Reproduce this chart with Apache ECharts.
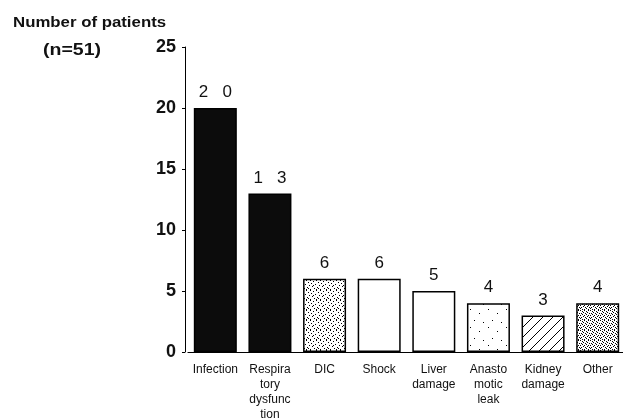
<!DOCTYPE html>
<html><head><meta charset="utf-8">
<script src="https://cdn.jsdelivr.net/npm/echarts@6/dist/echarts.min.js"></script>
<style>html,body{margin:0;padding:0;background:#fff}#c{width:623px;height:419px}</style>
</head><body><div id="c"></div>
<script>
const categories = ['Infection', 'Respira\ntory\ndysfunc\ntion', 'DIC', 'Shock', 'Liver\ndamage', 'Anasto\nmotic\nleak', 'Kidney\ndamage', 'Other'];
const values = [20, 13, 6, 6, 5, 4, 3, 4];
const valueLabels = ['2   0', '1   3', '6', '6', '5', '4', '3', '4'];
const yTicks = [0, 5, 10, 15, 20, 25];

function makePattern(kind) {
  const c = document.createElement('canvas');
  const s = 10; c.width = s; c.height = s;
  const g = c.getContext('2d');
  g.fillStyle = '#fff'; g.fillRect(0, 0, s, s);
  g.fillStyle = '#000'; g.strokeStyle = '#000';
  const dots = (pts) => pts.forEach(p => g.fillRect(p[0], p[1], 1, 1));
  if (kind === 'dense') {
    dots([[0,0],[3,1],[6,0],[8,2],[1,3],[5,4],[9,5],[2,6],[7,7],[4,8],[0,9],[6,9],[3,5],[8,8]]);
  } else if (kind === 'sparse') {
    c.width = 18; c.height = 18;
    g.fillStyle = '#fff'; g.fillRect(0, 0, 18, 18); g.fillStyle = '#000';
    dots([[2,3],[11,7],[6,14],[15,16]]);
  } else if (kind === 'hatch') {
    g.lineWidth = 1;
    g.beginPath();
    g.moveTo(0, s); g.lineTo(s, 0);
    g.moveTo(-s/2, s/2); g.lineTo(s/2, -s/2);
    g.moveTo(s/2, s*1.5); g.lineTo(s*1.5, s/2);
    g.stroke();
  } else if (kind === 'cross') {
    dots([[0,0],[2,1],[4,0],[6,1],[8,0],[1,3],[3,2],[5,3],[7,2],[9,3],[0,5],[2,4],[4,5],[6,4],[8,5],[1,7],[3,6],[5,7],[7,6],[9,7],[0,8],[4,9],[8,9],[2,9],[6,8]]);
  }
  return c;
}
const fills = ['#0c0c0c', '#0c0c0c', {image: makePattern('dense'), repeat: 'repeat'}, '#fff', '#fff',
  {image: makePattern('sparse'), repeat: 'repeat'}, {image: makePattern('hatch'), repeat: 'repeat'},
  {image: makePattern('cross'), repeat: 'repeat'}];

const FONT = 'Arial, "Liberation Sans", sans-serif';
const chart = echarts.init(document.getElementById('c'), null, {renderer: 'canvas'});
chart.setOption({
  animation: false,
  graphic: [
    {type: 'text', x: 13, y: 15, scaleX: 1.12, style: {text: 'Number of patients', font: 'bold 15px ' + FONT, fill: '#111'}},
    {type: 'text', x: 43, y: 43, scaleX: 1.22, style: {text: '(n=51)', font: 'bold 16px ' + FONT, fill: '#111'}}
  ],
  grid: {left: 188, top: 47, width: 437, height: 305, containLabel: false, outerBoundsMode: 'none'},
  xAxis: {
    type: 'category', data: categories,
    axisLine: {lineStyle: {color: '#000', width: 1.2}},
    axisTick: {show: false},
    axisLabel: {interval: 0, color: '#111', fontSize: 12, fontFamily: FONT, lineHeight: 15, margin: 10}
  },
  yAxis: {
    type: 'value', min: 0, max: 25, interval: 5, offset: 3,
    axisLine: {show: true, lineStyle: {color: '#000', width: 1}},
    axisTick: {show: true, length: 3, lineStyle: {color: '#000'}},
    splitLine: {show: false},
    axisLabel: {color: '#111', fontSize: 18, fontWeight: 'bold', fontFamily: FONT, margin: 9}
  },
  series: [{
    type: 'bar', barWidth: 43,
    data: values.map((v, i) => ({value: v, itemStyle: {color: fills[i]}})),
    itemStyle: {borderColor: '#000', borderWidth: 1.5},
    label: {show: true, position: 'top', distance: 7, color: '#111', fontSize: 17, fontFamily: FONT,
      formatter: p => valueLabels[p.dataIndex]}
  }]
});
</script></body></html>
